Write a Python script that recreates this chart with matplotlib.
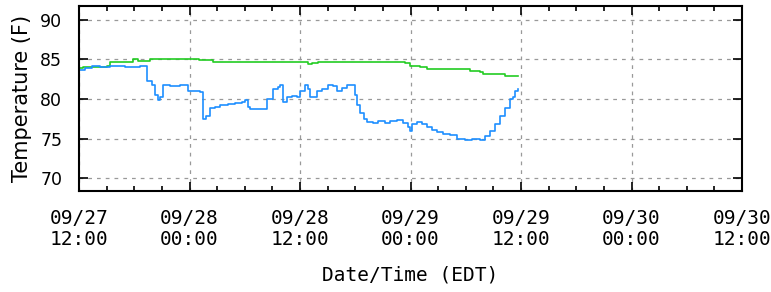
import numpy as np
import matplotlib
matplotlib.use('Agg')
from matplotlib import pyplot as plt
import matplotlib.dates as mdates

START = np.datetime64('2012-09-27T12:00')

# hours after 09/27 12:00, temperature (F)
blue_hours = [0, 0.65, 1.41, 2.28, 3.37, 5.0, 6.63, 7.39, 7.93, 8.25, 8.58, 8.8,
              9.12, 9.88, 10.97, 11.84, 13.14, 13.47, 13.79, 14.23, 14.77, 15.31,
              16.18, 16.94, 17.7, 18.03, 18.35, 18.57, 19.87, 20.42, 21.07, 21.61,
              21.83, 22.15, 22.59, 23.13, 23.67, 24.0, 24.54, 24.87, 25.09, 25.85,
              26.39, 27.04, 27.58, 28.02, 28.56, 29.1, 29.76, 29.97, 30.19, 30.52,
              30.95, 31.28, 31.93, 32.47, 33.23, 33.77, 34.53, 35.19, 35.73, 35.95,
              36.16, 36.71, 37.25, 37.79, 38.34, 38.88, 39.53, 40.29, 41.05, 41.92,
              42.68, 43.55, 44.09, 44.63, 45.18, 45.72, 46.26, 46.81, 47.13, 47.35,
              47.68]
blue_temp = [83.7, 83.9, 84.1, 84.0, 84.1, 84.0, 84.1, 82.3, 81.8, 80.5, 79.9, 80.2,
             81.8, 81.6, 81.7, 81.0, 80.9, 77.5, 77.8, 78.8, 79.0, 79.2,
             79.3, 79.5, 79.6, 79.9, 79.0, 78.7, 78.7, 80.0, 81.2, 81.5,
             81.8, 79.6, 80.2, 80.4, 80.2, 81.0, 81.7, 81.2, 80.3, 81.0,
             81.2, 81.7, 81.6, 81.0, 81.4, 81.7, 81.7, 80.5, 79.2, 78.2,
             77.5, 77.1, 77.0, 77.2, 77.0, 77.2, 77.4, 77.0, 76.5, 76.0,
             76.9, 77.1, 76.8, 76.5, 76.1, 75.8, 75.6, 75.4, 74.9, 74.8,
             74.9, 74.8, 75.3, 76.0, 76.8, 77.9, 78.8, 80.0, 80.3, 81.0,
             81.3]

green_hours = [0, 0.43, 3.04, 3.37, 5.0, 5.86, 6.41, 7.49, 7.71, 12.81, 13.03, 14.55,
               24.54, 24.87, 25.3, 25.96, 34.1, 35.4, 35.95, 37.03, 37.79, 41.7,
               42.46, 43.55, 43.87, 46.05, 46.26, 47.68]
green_temp = [83.9, 84.0, 84.1, 84.6, 84.7, 85.0, 84.8, 84.8, 85.05, 85.05, 84.85, 84.65,
              84.65, 84.4, 84.5, 84.7, 84.7, 84.5, 84.2, 84.0, 83.75, 83.75,
              83.5, 83.4, 83.1, 83.1, 82.9, 82.9]


def to_time(hours):
    return START + (np.array(hours) * 60).astype(int).astype('timedelta64[m]')


fig = plt.figure(figsize=(7.71, 2.92), dpi=100)
ax = fig.add_axes([0.1025, 0.346, 0.86, 0.633])

ax.plot(to_time(green_hours), green_temp, color='#22cc22', lw=1.2,
        drawstyle='steps-post')
ax.plot(to_time(blue_hours), blue_temp, color='#1e8fff', lw=1.2,
        drawstyle='steps-post')

ax.set_xlim(START, START + np.timedelta64(72, 'h'))
ax.set_ylim(68.4, 91.7)
ax.set_yticks([70, 75, 80, 85, 90])

ax.xaxis.set_major_locator(mdates.HourLocator(byhour=[0, 12]))
ax.xaxis.set_minor_locator(mdates.HourLocator(byhour=[3, 6, 9, 15, 18, 21]))
ax.xaxis.set_major_formatter(mdates.DateFormatter('%m/%d\n%H:%M'))

ax.grid(True, color='#999999', linestyle=(0, (3, 4)), lw=0.9)
ax.tick_params(which='both', direction='in', top=True, right=True, width=1.2)
ax.tick_params(which='major', length=6.5)
ax.tick_params(which='minor', length=3.6)
ax.tick_params(axis='x', pad=13)
ax.tick_params(axis='y', pad=12, labelsize=12.5)
for lbl in ax.get_xticklabels():
    lbl.set_family('DejaVu Sans Mono')
    lbl.set_fontsize(14)
    lbl.set_linespacing(1.15)
for sp in ax.spines.values():
    sp.set_linewidth(1.5)

ax.set_xlabel('Date/Time (EDT)', family='DejaVu Sans Mono', fontsize=14,
              labelpad=12)
ax.set_ylabel('Temperature (F)', fontsize=15, labelpad=6)

fig.savefig('out.png', dpi=100)
